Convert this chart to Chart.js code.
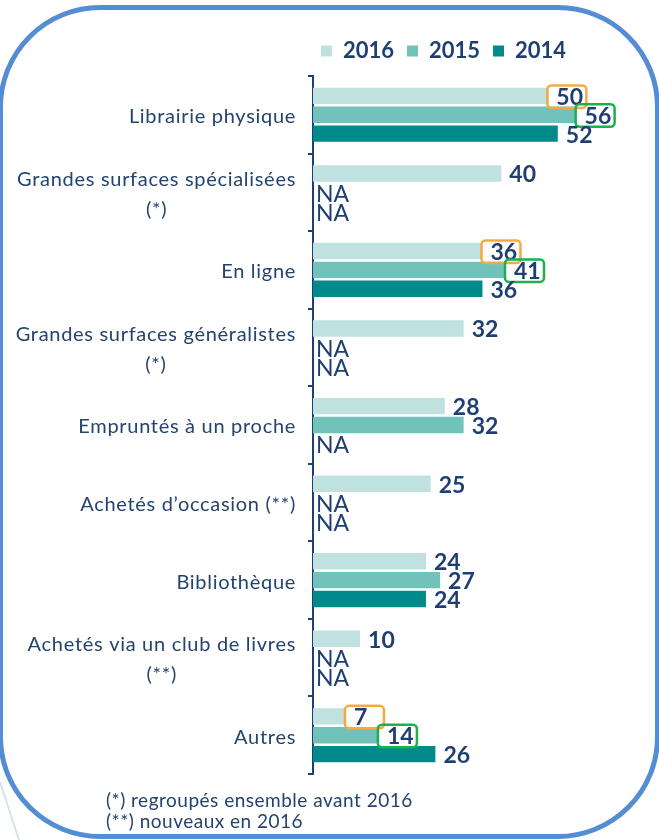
<!DOCTYPE html>
<html><head><meta charset="utf-8">
<script src="https://cdn.jsdelivr.net/npm/chart.js@4.4.1/dist/chart.umd.min.js"></script>
<style>
html,body{margin:0;padding:0;width:659px;height:840px;overflow:hidden;background:#fff;}
#wrap{position:relative;width:659px;height:840px;overflow:hidden;}
canvas{position:absolute;left:0;top:0;}
#frame{position:absolute;left:-2.5px;top:5px;width:662px;height:834px;box-sizing:border-box;border:5px solid #548DD4;border-radius:102px;pointer-events:none;}
#notes{position:absolute;left:106px;top:789px;font-family:Lato,sans-serif;font-size:19px;letter-spacing:0.5px;color:#23446F;line-height:21px;white-space:nowrap;}
#deco{position:absolute;left:0;top:0;}
</style></head>
<body><div id="wrap">
<svg id="deco" width="659" height="840"><line x1="0" y1="782" x2="19" y2="840" stroke="#D3E3F2" stroke-width="2"/></svg>
<canvas id="c" width="659" height="840"></canvas>
<div id="frame"></div>
<div id="notes">(*) regroupés ensemble avant 2016<br>(**) nouveaux en 2016</div>
</div>
<script>
const categories = [
  ["Librairie physique"],
  ["Grandes surfaces spécialisées", "(*)"],
  ["En ligne"],
  ["Grandes surfaces généralistes", "(*)"],
  ["Empruntés à un proche"],
  ["Achetés d’occasion (**)"],
  ["Bibliothèque"],
  ["Achetés via un club de livres", "(**)"],
  ["Autres"]
];
const seriesNames = ["2016", "2015", "2014"];
const values2016 = [50, 40, 36, 32, 28, 25, 24, 10, 7];
const values2015 = [56, null, 41, null, 32, null, 27, null, 14];
const values2014 = [52, null, 36, null, null, null, 24, null, 26];
const boxedIdx = [0, 2, 8];
const naLabel = "NA";

const COLORS = ['#BFE2E0', '#72C2BC', '#008A8C'];
const BOX_COLORS = ['#F7A941', '#1DB04E'];
const NAVY = '#1F3F74';
const LABEL = '#23446F';
const FONT = 'Lato';
const X_MAX = 73.5;

const valueLabels = {
  id: 'valueLabels',
  afterDatasetsDraw(chart) {
    const ctx = chart.ctx;
    const xs = chart.scales.x;
    ctx.save();
    ctx.textBaseline = 'middle';
    ctx.textAlign = 'left';
    chart.data.datasets.forEach((ds, di) => {
      const meta = chart.getDatasetMeta(di);
      meta.data.forEach((bar, i) => {
        const v = ds.data[i];
        const y = bar.y;
        if (v === null || v === undefined) {
          ctx.font = `23px ${FONT}`;
          ctx.fillStyle = NAVY;
          ctx.fillText(naLabel, xs.getPixelForValue(0) + 3, y + 2);
          return;
        }
        const xEnd = xs.getPixelForValue(v);
        if (boxedIdx.includes(i) && di < 2) {
          ctx.strokeStyle = BOX_COLORS[di];
          ctx.lineWidth = 2.5;
          ctx.beginPath();
          ctx.roundRect(xEnd - 1, y - 10.5, 39, 22.5, 4);
          ctx.stroke();
        }
        ctx.font = `bold 23px ${FONT}`;
        ctx.fillStyle = NAVY;
        ctx.fillText(String(v), xEnd + 8, y + 1.5);
      });
    });
    ctx.restore();
  }
};

const catLabels = {
  id: 'catLabels',
  afterDraw(chart) {
    const ys = chart.scales.y;
    const ctx = chart.ctx;
    const xRight = ys.right - 17;
    ctx.save();
    ctx.font = `20px ${FONT}`;
    ctx.letterSpacing = '0.7px';
    ctx.fillStyle = LABEL;
    ctx.textBaseline = 'middle';
    categories.forEach((lines, i) => {
      const yc = ys.getPixelForTick(i) + 2;
      if (lines.length === 1) {
        ctx.textAlign = 'right';
        ctx.fillText(lines[0], xRight, yc);
      } else {
        const w = ctx.measureText(lines[0]).width;
        const cx = xRight - w / 2;
        ctx.textAlign = 'center';
        lines.forEach((ln, k) => ctx.fillText(ln, cx, yc + (k - (lines.length - 1) / 2) * 30));
      }
    });
    ctx.restore();
  }
};

const seriesValues = [values2016, values2015, values2014];
new Chart(document.getElementById('c'), {
  type: 'bar',
  data: {
    labels: categories.map(c => c.join(' ')),
    datasets: seriesNames.map((n, k) => ({
      label: n,
      data: seriesValues[k],
      backgroundColor: COLORS[k],
      borderWidth: 0,
      barPercentage: 0.87,
      categoryPercentage: 0.73
    }))
  },
  options: {
    indexAxis: 'y',
    responsive: false,
    animation: false,
    devicePixelRatio: 1,
    layout: { padding: { left: 228, right: 0, top: 27, bottom: 66 } },
    plugins: {
      legend: {
        position: 'top',
        align: 'center',
        labels: {
          boxWidth: 11, boxHeight: 11, padding: 13,
          color: NAVY,
          font: { family: FONT, size: 22, weight: 'bold' }
        }
      },
      tooltip: { enabled: false }
    },
    scales: {
      x: {
        position: 'top',
        min: 0, max: X_MAX,
        ticks: { display: false },
        grid: { display: false },
        border: { display: false },
        afterFit(s) { s.height = 4; }
      },
      y: {
        ticks: { display: false },
        grid: { display: true, drawOnChartArea: false, drawTicks: true, tickLength: 5, color: NAVY, lineWidth: 2 },
        border: { display: true, color: NAVY, width: 2 },
        afterFit(s) { s.width = 85; }
      }
    }
  },
  plugins: [valueLabels, catLabels]
});
</script>
</body></html>
